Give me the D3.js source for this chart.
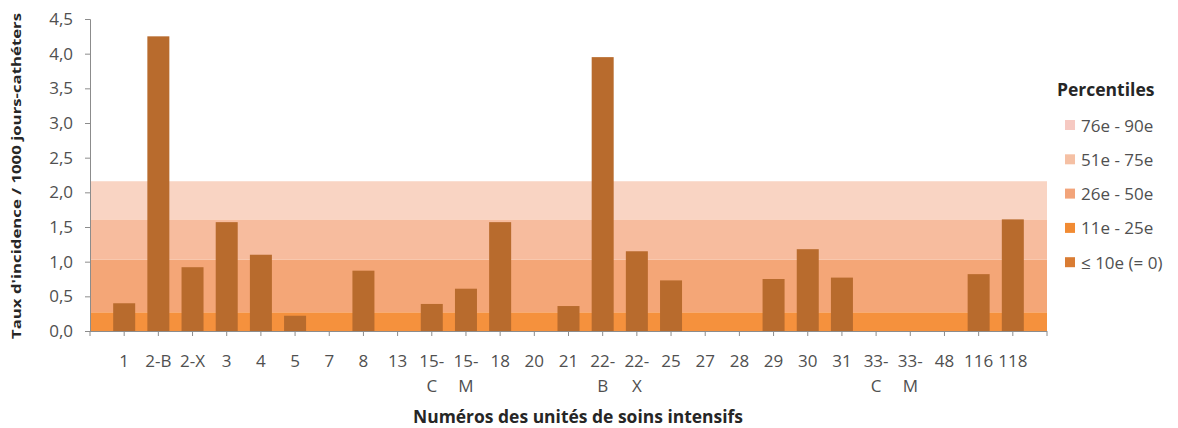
<!DOCTYPE html>
<html>
<head>
<meta charset="utf-8">
<script src="https://cdn.jsdelivr.net/npm/d3@7"></script>
<style>
  body { margin: 0; background: #fff; }
  svg text { font-family: "Open Sans", "DejaVu Sans", sans-serif; }
</style>
</head>
<body>
<div id="chart"></div>
<script>
// unités de soins intensifs
var categories = ["1","2-B","2-X","3","4","5","7","8","13","15-C","15-M","18","20","21",
  "22-B","22-X","25","27","28","29","30","31","33-C","33-M","48","116","118"];
// libellés affichés (retour à la ligne comme dans l'original)
var tickLabels = [["1"],["2-B"],["2-X"],["3"],["4"],["5"],["7"],["8"],["13"],["15-","C"],["15-","M"],
  ["18"],["20"],["21"],["22-","B"],["22-","X"],["25"],["27"],["28"],["29"],["30"],["31"],
  ["33-","C"],["33-","M"],["48"],["116"],["118"]];
var taux = [0.40,4.25,0.92,1.57,1.10,0.22,0,0.87,0,0.39,0.61,1.57,0,0.36,
  3.95,1.15,0.73,0,0,0.75,1.18,0.77,0,0,0,0.82,1.61];

// bandes de percentiles (bornes inférieure / supérieure)
var bandNames = ["11e - 25e","26e - 50e","51e - 75e","76e - 90e"];
var bandLow  = [0, 0.27, 1.03, 1.61];
var bandHigh = [0.27, 1.03, 1.61, 2.16];
var bandColors = ["#f5913d","#f4a677","#f7bc9e","#f9d4c3"];

var legendNames = ["76e - 90e","51e - 75e","26e - 50e","11e - 25e","\u2264 10e (= 0)"];
var legendColors = ["#f6c9c2","#f5c0a4","#f2a47a","#f18b33","#d97c33"];

var yTicks = [0,0.5,1,1.5,2,2.5,3,3.5,4,4.5];

var width = 1178, height = 428;
var x0 = 90, x1 = 1047, yTop = 19, yBase = 331;
var barColor = "#b86b2d", textColor = "#505050", titleColor = "#262626", axisColor = "#8c8c8c";

var svg = d3.select("#chart").append("svg")
  .attr("width", width).attr("height", height);

var x = d3.scalePoint().domain(categories).range([x0, x1]).padding(1);
var y = d3.scaleLinear().domain([0, 4.5]).range([yBase, yTop]);
var barW = 22;

// bandes
svg.append("g").selectAll("rect")
  .data(bandNames)
  .enter().append("rect")
  .attr("x", x0).attr("width", x1 - x0)
  .attr("y", function(d, i) { return y(bandHigh[i]); })
  .attr("height", function(d, i) { return y(bandLow[i]) - y(bandHigh[i]); })
  .attr("fill", function(d, i) { return bandColors[i]; });

// barres
svg.append("g").selectAll("rect")
  .data(categories)
  .enter().append("rect")
  .attr("x", function(d) { return x(d) - barW / 2; })
  .attr("width", barW)
  .attr("y", function(d, i) { return y(taux[i]); })
  .attr("height", function(d, i) { return yBase - y(taux[i]); })
  .attr("fill", barColor);

// axe Y
var yAxis = svg.append("g").attr("transform", "translate(" + x0 + ",0)")
  .call(d3.axisLeft(y).tickValues(yTicks).tickSize(5).tickPadding(12)
    .tickFormat(function(d) { return d3.format(".1f")(d).replace(".", ","); }));
yAxis.select(".domain").attr("stroke", axisColor);
yAxis.selectAll(".tick line").attr("stroke", axisColor);
yAxis.selectAll(".tick text").attr("fill", textColor).style("font-size", "17px");

// axe X
var xg = svg.append("g");
xg.append("line").attr("x1", x0).attr("x2", x1).attr("y1", yBase + 0.5).attr("y2", yBase + 0.5)
  .attr("stroke", axisColor);
var tickPos = [x0].concat(categories.map(function(d) { return x(d); })).concat([x1]);
xg.selectAll("line.t").data(tickPos).enter().append("line")
  .attr("class", "t")
  .attr("x1", function(d) { return d; }).attr("x2", function(d) { return d; })
  .attr("y1", yBase).attr("y2", yBase + 5).attr("stroke", axisColor);
var xl = xg.selectAll("text").data(categories).enter().append("text")
  .attr("text-anchor", "middle")
  .attr("fill", textColor)
  .style("font-size", "17px");
xl.each(function(d, i) {
  var t = d3.select(this);
  tickLabels[i].forEach(function(s, j) {
    t.append("tspan").attr("x", x(d)).attr("y", 367 + j * 25).text(s);
  });
});

// titres
svg.append("text")
  .attr("transform", "translate(21,176) rotate(-90)")
  .attr("text-anchor", "middle")
  .attr("fill", titleColor)
  .attr("textLength", 326).attr("lengthAdjust", "spacingAndGlyphs")
  .style("font-size", "13px").style("font-weight", "bold")
  .text("Taux d'incidence  / 1000 jours-cathéters");

svg.append("text")
  .attr("x", 578).attr("y", 423)
  .attr("text-anchor", "middle")
  .attr("fill", titleColor)
  .attr("textLength", 330).attr("lengthAdjust", "spacingAndGlyphs")
  .style("font-size", "17px").style("font-weight", "bold")
  .text("Numéros des unités de soins intensifs");

// légende
var lg = svg.append("g");
lg.append("text").attr("x", 1057).attr("y", 96)
  .attr("fill", titleColor)
  .style("font-size", "17.5px").style("font-weight", "bold")
  .text("Percentiles");
var li = lg.selectAll("g.item").data(legendNames).enter().append("g").attr("class", "item")
  .attr("transform", function(d, i) { return "translate(1065," + (125 + i * 34.3) + ")"; });
li.append("rect").attr("x", 0).attr("y", -5).attr("width", 10).attr("height", 10)
  .attr("fill", function(d, i) { return legendColors[i]; });
li.append("text").attr("x", 16).attr("y", 6.5)
  .attr("fill", textColor).style("font-size", "17px")
  .text(function(d) { return d; });
</script>
</body>
</html>
